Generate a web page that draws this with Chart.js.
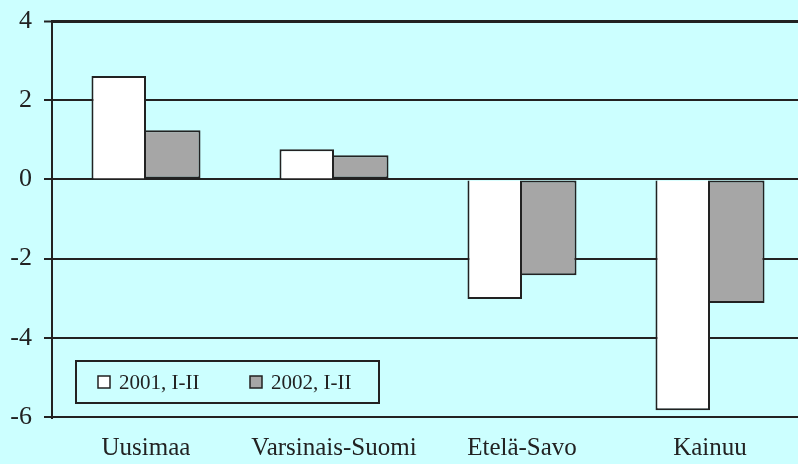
<!DOCTYPE html>
<html>
<head>
<meta charset="utf-8">
<script src="https://cdn.jsdelivr.net/npm/chart.js@4/dist/chart.umd.min.js"></script>
<style>
html,body{margin:0;padding:0;background:#ccffff;overflow:hidden;width:798px;height:464px;}
#wrap{position:absolute;left:0;top:0;width:806px;height:464px;}
</style>
</head>
<body>
<div id="wrap"><canvas id="c" width="806" height="464"></canvas></div>
<script>
const categories = ["Uusimaa", "Varsinais-Suomi", "Etelä-Savo", "Kainuu"];
const seriesNames = ["2001, I-II", "2002, I-II"];
const values2001 = [2.61, 0.76, -3.02, -5.83];
const values2002 = [1.24, 0.61, -2.42, -3.12];
const yTicks = [4, 2, 0, -2, -4, -6];

const INK = '#222222';
const BG = '#ccffff';
const FONT = '"Liberation Serif", "Times New Roman", serif';

const bgPlugin = {
  id: 'bg',
  beforeDraw(chart) {
    const ctx = chart.ctx;
    ctx.save();
    ctx.fillStyle = BG;
    ctx.fillRect(0, 0, chart.width, chart.height);
    ctx.restore();
  }
};

const legendBox = {
  id: 'legendBox',
  afterDatasetsDraw(chart) {
    const ctx = chart.ctx;
    const a = chart.chartArea;
    const x0 = a.left + 24, y0 = a.bottom - 56, w = 303, h = 42;
    ctx.save();
    ctx.fillStyle = BG;
    ctx.fillRect(x0, y0, w, h);
    ctx.lineWidth = 2;
    ctx.strokeStyle = INK;
    ctx.strokeRect(x0, y0, w, h);
    ctx.font = '21px ' + FONT;
    ctx.textBaseline = 'middle';
    const offs = [22, 174];
    chart.data.datasets.forEach((ds, i) => {
      const sx = x0 + offs[i], sy = y0 + 15;
      ctx.fillStyle = ds.backgroundColor;
      ctx.fillRect(sx, sy, 12, 12);
      ctx.lineWidth = 1.5;
      ctx.strokeStyle = INK;
      ctx.strokeRect(sx, sy, 12, 12);
      ctx.fillStyle = INK;
      ctx.fillText(ds.label, sx + 21, sy + 7);
    });
    ctx.restore();
  }
};

new Chart(document.getElementById('c'), {
  type: 'bar',
  data: {
    labels: categories,
    datasets: [
      { label: seriesNames[0], data: values2001, backgroundColor: '#ffffff', borderColor: INK, borderWidth: 2 },
      { label: seriesNames[1], data: values2002, backgroundColor: '#a6a6a6', borderColor: INK, borderWidth: 2, borderSkipped: 'left' }
    ]
  },
  options: {
    responsive: false,
    animation: false,
    layout: { padding: { top: 21, right: 2, left: 0, bottom: 0 } },
    plugins: { legend: { display: false }, tooltip: { enabled: false } },
    datasets: { bar: { categoryPercentage: 0.58, barPercentage: 1.0 } },
    scales: {
      x: {
        grid: { display: false, drawTicks: false },
        border: { display: false },
        ticks: {
          color: INK,
          padding: 16,
          font: { family: FONT, size: 25 }
        },
        afterFit(s) { s.height = 47; s.paddingLeft = 0; s.paddingRight = 0; }
      },
      y: {
        min: -6, max: 4,
        afterBuildTicks(s) { s.ticks = yTicks.map(v => ({ value: v })); },
        grid: {
          color: INK,
          lineWidth: (c) => (c.tick && c.tick.value === 4) ? 3 : 2,
          tickLength: 8,
          tickColor: INK,
          tickWidth: 2
        },
        border: { display: true, color: INK, width: 2 },
        ticks: {
          color: INK,
          padding: 12,
          font: { family: FONT, size: 26 }
        },
        afterFit(s) { s.width = 52; s.paddingTop = 0; s.paddingBottom = 0; }
      }
    }
  },
  plugins: [bgPlugin, legendBox]
});
</script>
</body>
</html>
